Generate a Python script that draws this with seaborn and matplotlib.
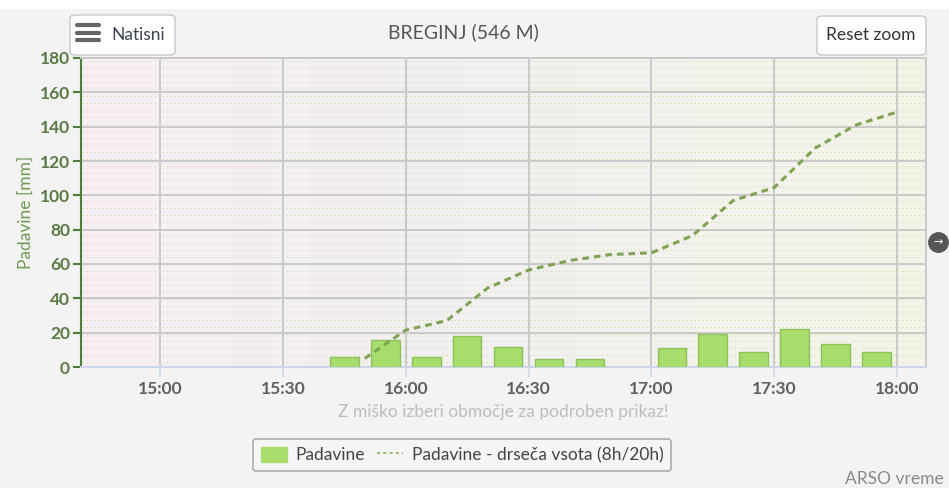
import numpy as np
import pandas as pd
import seaborn as sns
import matplotlib
matplotlib.use("Agg")
import matplotlib.pyplot as plt
from matplotlib.patches import FancyBboxPatch, Patch
from matplotlib.lines import Line2D
from matplotlib.ticker import MultipleLocator

# podatki (ure -> minute od polnoci)
bar_times = ["15:45", "15:55", "16:05", "16:15", "16:25", "16:35", "16:45",
             "16:55", "17:05", "17:15", "17:25", "17:35", "17:45", "17:55"]
bar_values = [6, 15.5, 6, 18, 11.5, 4.5, 4.5, 0, 11, 19, 8.5, 22, 13.5, 8.5]

sum_times = ["15:50", "16:00", "16:10", "16:20", "16:30", "16:40", "16:50",
             "17:00", "17:10", "17:20", "17:30", "17:40", "17:50", "18:00"]
sum_values = [5, 21.5, 27, 46, 56.5, 62, 65.5, 66.5, 76.5, 97, 104.5, 127.5, 141, 148.5]

x_ticks = ["15:00", "15:30", "16:00", "16:30", "17:00", "17:30", "18:00"]
x_range = ["14:40:40", "18:07:05"]


def to_min(s):
    t = pd.to_timedelta(s if s.count(":") == 2 else s + ":00")
    return t.total_seconds() / 60


df_bar = pd.DataFrame({"t": [to_min(s) for s in bar_times], "mm": bar_values})
df_sum = pd.DataFrame({"t": [to_min(s) for s in sum_times], "mm": sum_values})

sns.set_theme(style="white")
plt.rcParams["font.family"] = ["Lato", "DejaVu Sans"]
FS = 12.5

fig = plt.figure(figsize=(9.49, 4.88), dpi=100, facecolor="#f3f3f3")
ax = fig.add_axes([81 / 949, 121 / 488, 845 / 949, 309 / 488])

xmin, xmax = to_min(x_range[0]), to_min(x_range[1])
ymin, ymax = 0, 180

# ozadje: barvni prehod + pikice
W, H = 845, 309
stops = np.array([[247, 238, 243], [242, 240, 241], [244, 244, 234]]) / 255
pos = np.linspace(0, 1, W)
cols = np.stack([np.interp(pos, [0, 0.45, 1], stops[:, c]) for c in range(3)], axis=1)
img = np.repeat(cols[None, :, :], H, axis=0)
img[3::7, 2::4] = np.array([196, 224, 152]) / 255
ax.imshow(img, extent=[xmin, xmax, ymin, ymax], aspect="auto", interpolation="nearest", zorder=0)

# mreza
for v in range(20, 181, 20):
    ax.axhline(v, color="#c9c9c9", lw=1.4, zorder=1)
for s in x_ticks:
    ax.axvline(to_min(s), color="#c9c9c9", lw=1.4, zorder=1)

sns.barplot(data=df_bar, x="t", y="mm", native_scale=True, width=0.7,
            color="#a8dc6c", edgecolor="#8cc258", linewidth=1, saturation=1, ax=ax, zorder=3)
for p in ax.patches:
    if p.get_height() == 0:
        p.set_visible(False)

sns.lineplot(data=df_sum, x="t", y="mm", color="#7ea352", linewidth=2.2,
             linestyle=(0, (2.2, 1.6)), ax=ax, zorder=4)

ax.set_xlim(xmin, xmax)
ax.set_ylim(ymin, ymax)
ax.set_xticks([to_min(s) for s in x_ticks])
ax.set_xticklabels(x_ticks)
ax.yaxis.set_major_locator(MultipleLocator(20))

for sp in ["top", "right"]:
    ax.spines[sp].set_color("#c9c9c9")
    ax.spines[sp].set_linewidth(1.4)
ax.spines["left"].set_color("#4f7d3a")
ax.spines["left"].set_linewidth(1.5)
ax.spines["bottom"].set_color("#ccd6eb")
ax.spines["bottom"].set_linewidth(1.5)

ax.tick_params(axis="y", length=6, width=1.5, color="#4f7d3a", labelcolor="#5a7a44",
               labelsize=FS, pad=2, left=True)
ax.tick_params(axis="x", length=7, width=1.2, color="#ccd6eb", labelcolor="#606060",
               labelsize=FS, pad=3, bottom=True)
for lab in ax.get_yticklabels():
    lab.set_fontweight("bold")
for lab in ax.get_xticklabels():
    lab.set_fontweight("bold")

ax.set_xlabel("Z miško izberi območje za podroben prikaz!", color="#bdbdbd", fontsize=FS, labelpad=5)
ax.set_ylabel("Padavine [mm]", color="#6f9a50", fontsize=FS, labelpad=4)

fig.text(463 / 949, 1 - 32 / 488, "BREGINJ (546 M)", ha="center", va="center", fontsize=14, color="#555555")

# gumba
def button(x0, y0, x1, y1):
    b = FancyBboxPatch((x0 / 949, 1 - y1 / 488), (x1 - x0) / 949, (y1 - y0) / 488,
                       boxstyle="round,pad=0,rounding_size=0.006", transform=fig.transFigure,
                       facecolor="white", edgecolor="#c8c8c8", lw=1, zorder=5)
    fig.patches.append(b)

button(70, 15, 175, 55)
for yy in [25, 32.5, 40]:
    fig.add_artist(Line2D([77 / 949, 99 / 949], [1 - yy / 488] * 2, color="#666666", lw=3,
                          solid_capstyle="round", transform=fig.transFigure, zorder=6))
fig.text(111 / 949, 1 - 35 / 488, "Natisni", ha="left", va="center", fontsize=FS, color="#3d4450", zorder=6)

button(817, 16, 926, 55)
fig.text(871 / 949, 1 - 35 / 488, "Reset zoom", ha="center", va="center", fontsize=FS, color="#333333", zorder=6)

# bel pas zgoraj
fig.patches.append(plt.Rectangle((0, 1 - 9 / 488), 1, 9 / 488, transform=fig.transFigure,
                                 facecolor="white", edgecolor="none", zorder=0))

# puscica desno
fig.add_artist(Line2D([938 / 949], [1 - 242 / 488], marker="o", markersize=14, color="#555555",
                      transform=fig.transFigure, zorder=5))
fig.text(938 / 949, 1 - 242 / 488, "→", ha="center", va="center", fontsize=8, color="white",
         family="DejaVu Sans", zorder=6)

# legenda
handles = [Patch(facecolor="#a8dc6c", edgecolor="#a8dc6c"),
           Line2D([0], [0], color="#9bbf70", lw=1.5, linestyle=(0, (1.5, 1.5)))]
leg = fig.legend(handles, ["Padavine", "Padavine - drseča vsota (8h/20h)"],
                 loc="center", bbox_to_anchor=(462 / 949, 1 - 455 / 488), ncol=2,
                 fontsize=FS, frameon=True, fancybox=True, edgecolor="#999999",
                 facecolor="#f6f6f6", handlelength=1.5, handleheight=1.0, columnspacing=0.7,
                 handletextpad=0.5, borderpad=0.45)
leg.get_frame().set_linewidth(1.2)
for t in leg.get_texts():
    t.set_color("#444444")

fig.text(944 / 949, 1 - 479 / 488, "ARSO vreme", ha="right", va="center", fontsize=FS, color="#8a8a8a")

fig.savefig("out.png", dpi=100, facecolor=fig.get_facecolor())
